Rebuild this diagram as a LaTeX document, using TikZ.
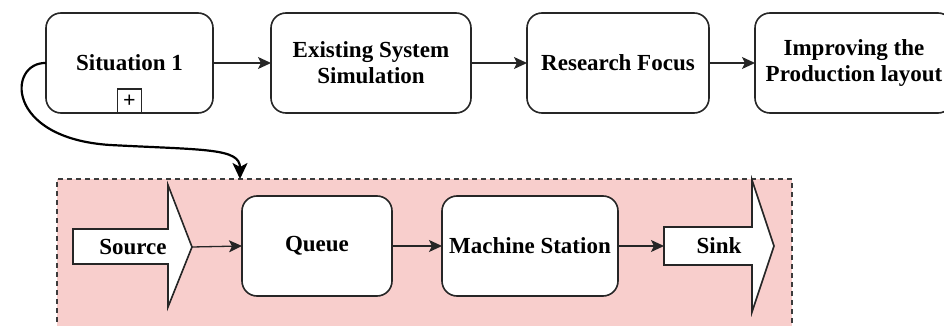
\documentclass[tikz,border=0pt]{standalone}
\usepackage{fontspec}
\setmainfont{Liberation Serif}
\usetikzlibrary{arrows.meta}
\definecolor{edge}{HTML}{262626}
\definecolor{simfill}{HTML}{F8CECC}
\begin{document}
\begin{tikzpicture}[x=0.5pt,y=-0.5pt,
  font=\fontsize{11.5}{13}\selectfont\bfseries,
  stage/.style={draw=edge,line width=0.8pt,fill=white,rounded corners=7.5pt},
  flow/.style={draw=edge,line width=0.65pt,-{Stealth[length=6.5pt,width=6pt,inset=1.5pt]}},
  bigflow/.style={draw=black,line width=1.1pt,-{Stealth[length=8pt,width=7.5pt,inset=2pt]}},
  lbl/.style={align=center,inner sep=0pt}]
\useasboundingbox (0,0) rectangle (944,326);
\clip (0,0) rectangle (944,326);

% simulation model area
\fill[simfill] (57,179) rectangle (792,340);
\draw[edge!90,line width=0.7pt,dash pattern=on 2.5pt off 2pt] (57,340) -- (57,179) -- (792,179) -- (792,340);

% top row of stages
\draw[stage] (46,13) rectangle (213,113);
\node[lbl] (sit) at (129.5,63) {Situation 1};
\coordinate (sitw) at (46,63);
\coordinate (site) at (213,63);
\draw[edge,line width=0.7pt,fill=white] (117.5,89) rectangle (141.5,113);
\node[inner sep=0pt,font=\fontsize{11}{11}\selectfont\bfseries] (plus) at (129.5,101) {+};

\draw[stage] (271,13) rectangle (471,113);
\node[lbl] (ess) at (371,63) {Existing System\\Simulation};
\coordinate (essw) at (271,63);
\coordinate (esse) at (471,63);

\draw[stage] (527,13) rectangle (709,113);
\node[lbl] (rf) at (618,63) {Research Focus};
\coordinate (rfw) at (527,63);
\coordinate (rfe) at (709,63);

\draw[stage] (755,13) rectangle (953,113);
\node[lbl] (ipl) at (854,63) {Improving the\\Production layout};
\coordinate (iplw) at (755,63);

\draw[flow] (site) -- (essw);
\draw[flow] (esse) -- (rfw);
\draw[flow] (rfe) -- (iplw);

% bottom row: source, queue, machine, sink
\draw[edge,line width=0.8pt,fill=white]
  (73,229) -- (168,229) -- (168,185) -- (192,247) -- (168,307) -- (168,264) -- (73,264) -- cycle;
\node[lbl] (src) at (133,247) {Source};
\coordinate (srctip) at (192,247);

\draw[stage] (242,196) rectangle (392,296);
\node[lbl] (que) at (317,246) {Queue};
\coordinate (quew) at (242,246);
\coordinate (quee) at (392,246);

\draw[stage] (442,196) rectangle (618,296);
\node[lbl] (mach) at (530,246) {Machine Station};
\coordinate (machw) at (442,246);
\coordinate (mache) at (618,246);

\draw[edge,line width=0.8pt,fill=white]
  (664,227) -- (752,227) -- (752,180) -- (774,246) -- (752,312) -- (752,265) -- (664,265) -- cycle;
\node[lbl] (snk) at (719,246) {Sink};
\coordinate (snkw) at (664,246);

\draw[flow] (srctip) -- (quew);
\draw[flow] (quee) -- (machw);
\draw[flow] (mache) -- (snkw);

% situation detail drill-down
\coordinate (simin) at (240,179);
\draw[bigflow] (sitw) .. controls (8,62) and (4,138) .. (110,145)
  .. controls (205,150) and (240,148) .. (simin);
\end{tikzpicture}
\end{document}
